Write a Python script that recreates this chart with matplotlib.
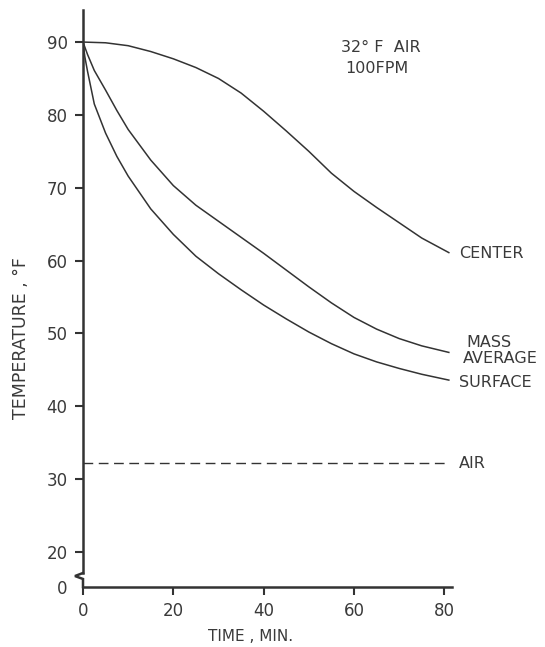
import matplotlib
matplotlib.use("Agg")
import matplotlib.pyplot as plt

# (time in min, temperature in deg F)
center_time = [0, 5, 10, 15, 20, 25, 30, 35, 40, 45, 50, 55, 60, 65, 70, 75, 81]
center_temp = [90, 89.9, 89.5, 88.7, 87.7, 86.5, 85.0, 83.0, 80.5, 77.8, 75.0, 72.0, 69.5, 67.3, 65.2, 63.1, 61.1]

mass_time = [0, 1, 2.5, 5, 7.5, 10, 15, 20, 25, 30, 35, 40, 45, 50, 55, 60, 65, 70, 75, 81]
mass_temp = [90, 88.3, 86.1, 83.4, 80.6, 78.0, 73.8, 70.3, 67.6, 65.4, 63.2, 61.0, 58.7, 56.4, 54.2, 52.2, 50.6, 49.3, 48.3, 47.4]

surface_time = [0, 0.4, 1, 2.5, 5, 7.5, 10, 15, 20, 25, 30, 35, 40, 45, 50, 55, 60, 65, 70, 75, 81]
surface_temp = [90, 88, 86, 81.5, 77.5, 74.3, 71.6, 67.1, 63.6, 60.6, 58.2, 56.0, 53.9, 52.0, 50.2, 48.6, 47.2, 46.1, 45.2, 44.4, 43.6]

air_time = [0, 81]
air_temp = [32.2, 32.2]

x_ticks = [0, 20, 40, 60, 80]
y_ticks = [15.2, 20, 30, 40, 50, 60, 70, 80, 90]
y_ticklabels = ["0", "20", "30", "40", "50", "60", "70", "80", "90"]

ink = "#333333"
grey = "#3a3a3a"
plt.rcParams["font.family"] = ["DejaVu Sans"]

fig = plt.figure(figsize=(5.45, 6.47), dpi=100)
ax = fig.add_axes([83 / 545, 60 / 647, 369 / 545, 577 / 647])

ax.plot(center_time, center_temp, color=ink, lw=1.1)
ax.plot(mass_time, mass_temp, color=ink, lw=1.1)
ax.plot(surface_time, surface_temp, color=ink, lw=1.1)
ax.plot(air_time, air_temp, color=ink, lw=1.0, dashes=(7, 4))

ax.set_xlim(0, 81.7)
ax.set_ylim(15.2, 94.4)
ax.set_xticks(x_ticks)
ax.set_yticks(y_ticks)
ax.set_yticklabels(y_ticklabels)

for s in ["top", "right"]:
    ax.spines[s].set_visible(False)
for s in ["left", "bottom"]:
    ax.spines[s].set_linewidth(1.8)
    ax.spines[s].set_color(ink)
ax.spines["left"].set_bounds(17.1, 94.4)
ax.tick_params(direction="out", length=6, width=1.5, color=ink,
               labelsize=12, labelcolor=grey, pad=5)
ax.yaxis.get_major_ticks()[0].tick1line.set_visible(False)

# break in the y axis, near the bottom
ax.plot([0, -0.0217, 0, 0], [0.0243, 0.019, 0.0139, 0],
        transform=ax.transAxes, color=ink, lw=1.8, clip_on=False,
        solid_joinstyle="miter")

ax.set_xlabel("TIME , MIN.", fontsize=11, color=grey)
ax.xaxis.set_label_coords(0.453, -0.073)
ax.set_ylabel("TEMPERATURE , °F", fontsize=12.5, color=grey)
ax.yaxis.set_label_coords(-0.144, 0.432)

txt = dict(fontsize=11.5, color=grey, va="center", ha="left")
ax.text(83.3, 61.0, "CENTER", **txt)
ax.text(84.8, 48.7, "MASS", **txt)
ax.text(84.0, 46.5, "AVERAGE", **txt)
ax.text(83.3, 43.3, "SURFACE", **txt)
ax.text(83.3, 32.2, "AIR", **txt)
ax.text(66.0, 89.3, "32° F  AIR", fontsize=11.5, color=grey, ha="center", va="center")
ax.text(65.1, 86.4, "100FPM", fontsize=11.5, color=grey, ha="center", va="center")

fig.savefig("out.png", dpi=100)
